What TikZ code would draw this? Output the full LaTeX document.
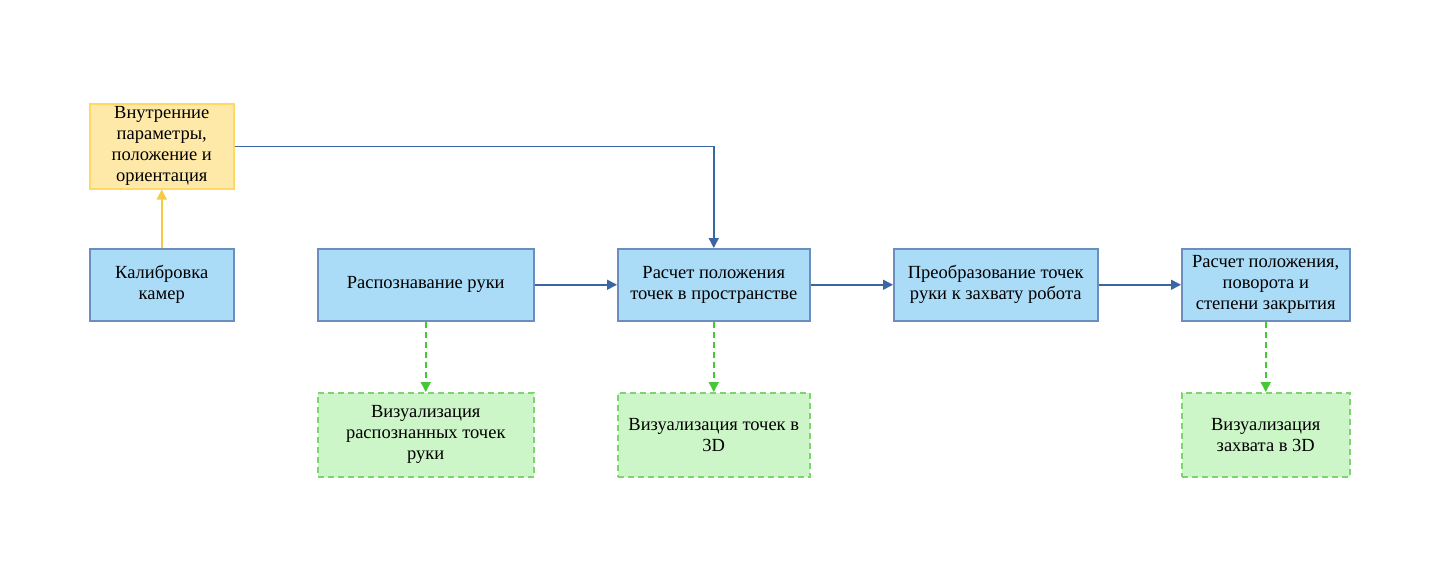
\documentclass[tikz,border=0pt]{standalone}
\usepackage{fontspec}
\setmainfont{Liberation Serif}
\usetikzlibrary{arrows.meta}
\definecolor{bfill}{HTML}{AADBF7}
\definecolor{bdraw}{HTML}{6C8EBF}
\definecolor{yfill}{HTML}{FFE9A8}
\definecolor{ydraw}{HTML}{FFD966}
\definecolor{gfill}{HTML}{CCF5C8}
\definecolor{gdraw}{HTML}{7ED46F}
\definecolor{barrow}{HTML}{3A66A6}
\definecolor{yarrow}{HTML}{F5CB45}
\definecolor{garrow}{HTML}{44C833}
\begin{document}
\begin{tikzpicture}[x=1pt,y=-1pt,
  box/.style={draw=bdraw,fill=bfill,line width=1.5pt,inner sep=0pt,align=center,
    font=\fontsize{18.5}{21}\selectfont,anchor=north west},
  ybox/.style={box,draw=ydraw,fill=yfill},
  gbox/.style={box,draw=gdraw,fill=gfill,dash pattern=on 6pt off 4pt},
  barr/.style={draw=barrow,line width=1.5pt,-{Triangle[length=10pt,width=10pt]}},
  yarr/.style={draw=yarrow,line width=1.6pt,-{Triangle[length=10pt,width=10pt]}},
  garr/.style={draw=garrow,line width=1.6pt,dash pattern=on 6pt off 4pt,-{Triangle[length=10pt,width=10pt]}}]
\useasboundingbox (0,0) rectangle (1437,579);
\fill[white] (0,0) rectangle (1437,579);
\node[ybox,minimum width=144pt,minimum height=85pt] (par) at (89,103) {Внутренние\\параметры,\\положение и\\ориентация};
\node[box,minimum width=144pt,minimum height=72pt] (cal) at (89,248) {Калибровка\\камер};
\node[box,minimum width=216pt,minimum height=72pt] (rec) at (317,248) {Распознавание руки};
\node[box,minimum width=192pt,minimum height=72pt] (pts) at (617,248) {Расчет положения\\точек в пространстве};
\node[box,minimum width=204pt,minimum height=72pt] (trf) at (893,248) {Преобразование точек\\руки к захвату робота};
\node[box,minimum width=168pt,minimum height=72pt] (grp) at (1181,248) {Расчет положения,\\поворота и\\степени закрытия};
\node[gbox,minimum width=216pt,minimum height=84pt] (v1) at (317,392) {Визуализация\\распознанных точек\\руки};
\node[gbox,minimum width=192pt,minimum height=84pt] (v2) at (617,392) {Визуализация точек в\\3D};
\node[gbox,minimum width=168pt,minimum height=84pt] (v3) at (1181,392) {Визуализация\\захвата в 3D};
\coordinate (corner) at (pts.north |- par.east);
\draw[yarr] (cal.north) -- (par.south);
\draw[barr] (par.east) -- (corner) -- (pts.north);
\draw[barr] (rec.east) -- (pts.west);
\draw[barr] (pts.east) -- (trf.west);
\draw[barr] (trf.east) -- (grp.west);
\draw[garr] (rec.south) -- (v1.north);
\draw[garr] (pts.south) -- (v2.north);
\draw[garr] (grp.south) -- (v3.north);
\end{tikzpicture}
\end{document}
